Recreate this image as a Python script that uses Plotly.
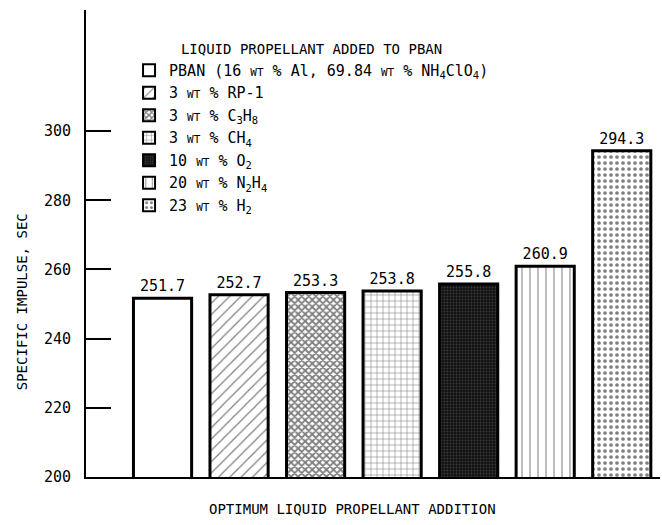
import plotly.graph_objects as go

WT = "<span style='font-size:11px'>WT</span>"
legend_names = [
    f"PBAN (16 {WT} % Al, 69.84 {WT} % NH<sub>4</sub>ClO<sub>4</sub>)",
    f"3 {WT} % RP-1",
    f"3 {WT} % C<sub>3</sub>H<sub>8</sub>",
    f"3 {WT} % CH<sub>4</sub>",
    f"10 {WT} % O<sub>2</sub>",
    f"20 {WT} % N<sub>2</sub>H<sub>4</sub>",
    f"23 {WT} % H<sub>2</sub>",
]
positions = [0, 1, 2, 3, 4, 5, 6]
impulse = [251.7, 252.7, 253.3, 253.8, 255.8, 260.9, 294.3]
value_labels = ["251.7", "252.7", "253.3", "253.8", "255.8", "260.9", "294.3"]
y_ticks = [200, 220, 240, 260, 280, 300]

patterns = [
    dict(shape="", bgcolor="white"),
    dict(shape="/", size=8, solidity=0.15, fgcolor="black", bgcolor="white"),
    dict(shape="x", size=5, solidity=0.6, fgcolor="black", bgcolor="white"),
    dict(shape="+", size=6, solidity=0.18, fgcolor="black", bgcolor="white"),
    dict(shape=".", size=3, solidity=0.3, fgcolor="#666", bgcolor="#111"),
    dict(shape="|", size=8, solidity=0.13, fgcolor="black", bgcolor="white"),
    dict(shape=".", size=6, solidity=0.3, fgcolor="black", bgcolor="white"),
]

FONT = "DejaVu Sans Mono"
fig = go.Figure()
for i in range(len(impulse)):
    fig.add_trace(go.Bar(
        x=[positions[i]], y=[impulse[i]], name=legend_names[i],
        width=0.76, text=[value_labels[i]], textposition="outside",
        textfont=dict(family=FONT, size=15, color="black"),
        marker=dict(color="white", pattern=patterns[i],
                    line=dict(color="black", width=3)),
        cliponaxis=False,
    ))

fig.update_layout(
    width=662, height=525,
    margin=dict(l=86, r=2, t=10, b=48),
    paper_bgcolor="white", plot_bgcolor="white",
    barmode="overlay",
    font=dict(family=FONT, size=14, color="black"),
    showlegend=True,
    legend=dict(
        x=0.075, y=0.945, xanchor="left", yanchor="top",
        bgcolor="rgba(0,0,0,0)",
        font=dict(family=FONT, size=15, color="black"),
        title=dict(text="LIQUID PROPELLANT ADDED TO PBAN", side="top center",
                   font=dict(family=FONT, size=14)),
        itemsizing="constant",
    ),
    xaxis=dict(range=[-1, 6.5], showticklabels=False, ticks="",
               showgrid=False, zeroline=False, showline=True,
               linecolor="black", linewidth=2),
    yaxis=dict(range=[200, 335], tickvals=y_ticks, ticks="inside", ticklen=25,
               tickwidth=2, tickcolor="black", showgrid=False, zeroline=False,
               showline=True, linecolor="black", linewidth=2,
               ticklabelstandoff=10,
               tickfont=dict(family=FONT, size=15, color="black")),
    annotations=[
        dict(text="OPTIMUM LIQUID PROPELLANT ADDITION", xref="paper", yref="paper",
             x=0.465, y=-0.048, yanchor="top", showarrow=False,
             font=dict(family=FONT, size=14)),
        dict(text="SPECIFIC IMPULSE, SEC", xref="paper", yref="paper",
             x=-0.13, y=0.375, textangle=-90, showarrow=False,
             font=dict(family=FONT, size=14)),
    ],
)

fig.write_html("out.html", config={"displayModeBar": False},
               post_script="document.body.style.margin='0px';document.body.style.overflow='hidden';")
